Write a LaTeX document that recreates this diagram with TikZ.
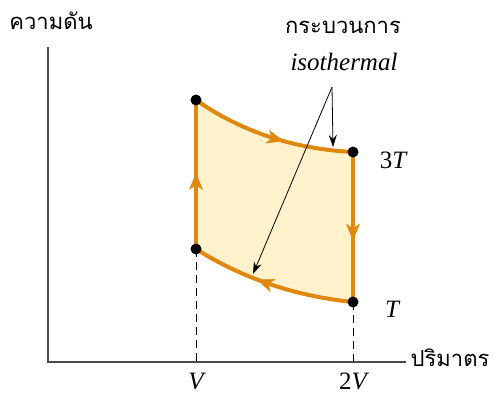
\documentclass[tikz,border=0pt]{standalone}
\usepackage{fontspec}
\setmainfont{Liberation Serif}
\newfontfamily\thaifont[Script=Thai]{Loma}
\usetikzlibrary{arrows.meta,decorations.markings}
\definecolor{orng}{HTML}{E0870E}
\definecolor{fillc}{HTML}{FFF2CC}
\definecolor{axisc}{HTML}{4A4A4A}
\begin{document}
\begin{tikzpicture}[x=1pt,y=-1pt,
  cyc/.style={draw=orng,line width=4pt,line cap=round,line join=round},
  midarrow/.style={postaction={decorate},decoration={markings,
     mark=at position #1 with {\arrow{Stealth[length=17pt,width=14pt,inset=5pt,line width=0.5pt,fill=orng,color=orng]}}}},
  dot/.style={circle,fill=black,inner sep=0pt,minimum size=11pt},
  axisline/.style={draw=axisc,line width=1.3pt},
  dropline/.style={draw=black,line width=0.9pt,dash pattern=on 8pt off 5pt},
  note/.style={draw=black,line width=0.8pt,-{Stealth[length=12pt,width=8pt]}},
  thai/.style={font=\thaifont\fontsize{22}{26}\selectfont},
  lab/.style={font=\fontsize{25}{30}\selectfont,anchor=base,inner sep=1pt}
]
\useasboundingbox (0,0) rectangle (497,394);
\coordinate (A) at (196,100);
\coordinate (B) at (353,152);
\coordinate (C) at (353,302);
\coordinate (D) at (196,249);
\coordinate (O) at (48,362);
\coordinate (Ytop) at (48,47);
\coordinate (Xend) at (406,362);
\coordinate (DV) at (196,362);
\coordinate (D2V) at (353,362);
\coordinate (S) at (332,87);
\coordinate (E1) at (333,147);
\coordinate (E2) at (253,274);
% fill
\fill[fillc] (A) .. controls (242,132) and (294,149) .. (B) -- (C) .. controls (294,296) and (242,278) .. (D) -- cycle;
% axes
\draw[axisline] (Ytop) -- (O) -- (Xend);
% drop lines
\draw[dropline] (D) -- (DV);
\draw[dropline] (C) -- (D2V);
% cycle
\draw[cyc,midarrow=0.58] (A) .. controls (242,132) and (294,149) .. (B);
\draw[cyc,midarrow=0.59] (B) -- (C);
\draw[cyc,midarrow=0.59] (C) .. controls (294,296) and (242,278) .. (D);
\draw[cyc,midarrow=0.51] (D) -- (A);
% annotation arrows
\draw[note] (S) -- (E1);
\draw[note] (S) -- (E2);
% dots
\node[dot] (nA) at (A) {};
\node[dot] (nB) at (B) {};
\node[dot] (nC) at (C) {};
\node[dot] (nD) at (D) {};
% labels
\node[thai] (ylab) at (51,21) {ความดัน};
\node[thai] (xlab) at (450,358) {ปริมาตร};
\node[thai] (proc) at (343,27) {กระบวนการ};
\node[lab] (iso) at (344,70) {\itshape isothermal};
\node[lab] (l3T) at (393,168) {3\itshape T};
\node[lab] (lT) at (392,317) {\itshape T};
\node[lab] (lV) at (196,389) {\itshape V};
\node[lab] (l2V) at (353,389) {2\itshape V};
\end{tikzpicture}
\end{document}
